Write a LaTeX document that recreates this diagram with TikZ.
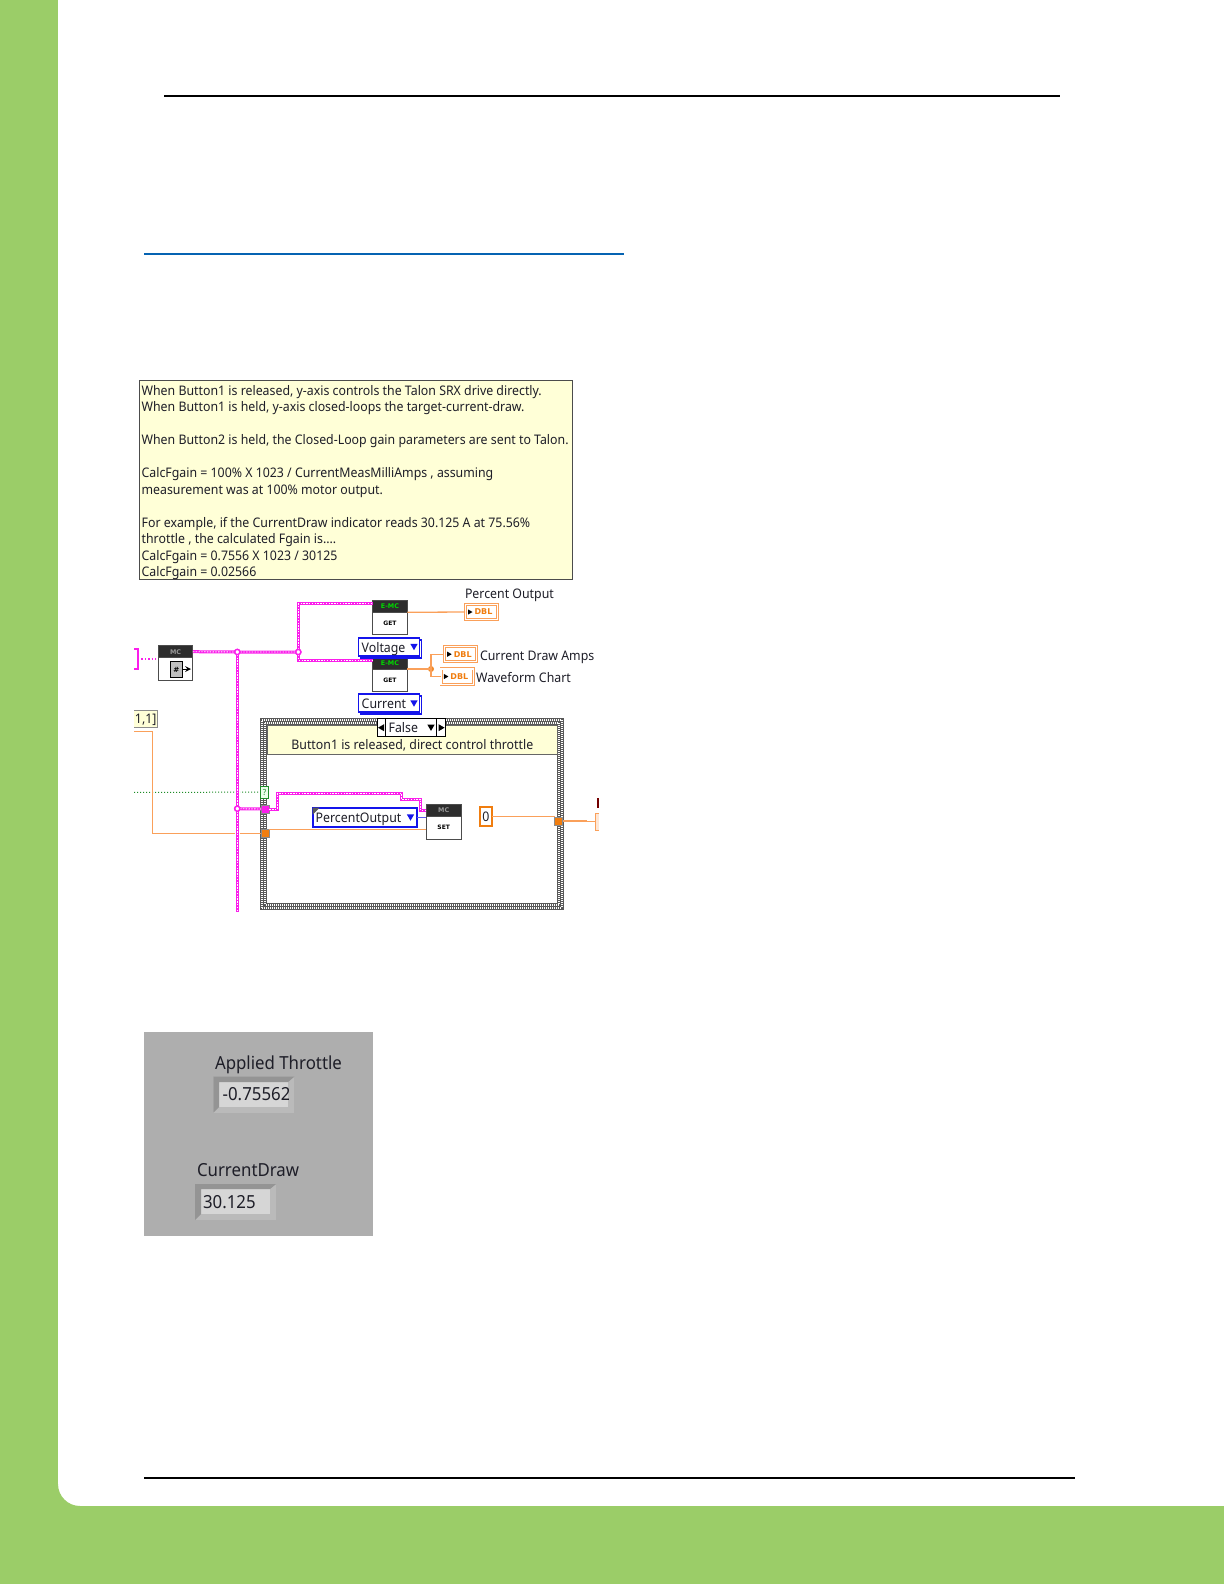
\documentclass[tikz,border=0pt]{standalone}
\usepackage{fontspec}
\setmainfont{Noto Sans}[FakeStretch=0.935]
\newfontfamily\iconfont{DejaVu Sans Bold}
\usetikzlibrary{positioning, shapes.geometric, shadows}
\definecolor{pagegreen}{RGB}{155,205,104}
\definecolor{rulblue}{RGB}{5,99,178}
\definecolor{lvpink}{RGB}{250,30,235}
\definecolor{lvorange}{RGB}{250,160,90}
\definecolor{tunnelorange}{RGB}{240,125,15}
\definecolor{lvblue}{RGB}{20,20,235}
\definecolor{lvgreen}{RGB}{30,140,40}
\definecolor{softyellow}{RGB}{255,255,215}
\definecolor{darkhead}{RGB}{45,45,45}
\definecolor{panelgray}{RGB}{174,174,174}
\definecolor{bevellight}{RGB}{186,186,186}
\definecolor{beveldark}{RGB}{148,148,148}
\definecolor{fieldgray}{RGB}{214,214,214}
\definecolor{inkgray}{RGB}{30,30,40}

\begin{document}
\begin{tikzpicture}[x=0.5pt, y=-0.5pt,
    every node/.style={inner sep=0pt, outer sep=0pt, text=inkgray},
    lvtext/.style={font=\fontsize{6.6}{8.25}\selectfont},
    paneltext/.style={font=\fontsize{9}{10}\selectfont},
    linebox/.style={lvtext, text height=5.4pt, text depth=0.4pt},
    notebox/.style={rectangle, draw=black!70, line width=0.5pt, fill=softyellow, minimum width=216.6pt, minimum height=99.5pt},
    note/.style={lvtext, align=left},
    iconhead/.style={rectangle, draw=black!70, line width=0.5pt, fill=darkhead, minimum width=17.3pt, minimum height=6pt, font=\iconfont\fontsize{3.2}{4}\selectfont},
    iconbody/.style={rectangle, draw=black!70, line width=0.5pt, fill=white, minimum width=17.3pt, minimum height=11.3pt, font=\iconfont\fontsize{3}{4}\selectfont, text=black},
    ringbox/.style={rectangle, draw=lvblue, line width=0.6pt, fill=white, linebox, align=left, inner xsep=1.5pt, text width=27.5pt, minimum height=9pt, copy shadow={shadow xshift=1pt, shadow yshift=-1pt, draw=lvblue, fill=white}},
    dropmark/.style={regular polygon, regular polygon sides=3, shape border rotate=180, fill=lvblue, minimum size=4.2pt},
    stepmark/.style={regular polygon, regular polygon sides=3, fill=black, minimum size=4pt},
    dblbox/.style={rectangle, draw=lvorange, line width=0.45pt, double=white, double distance=0.6pt, fill=white, minimum width=16.2pt, minimum height=7.6pt, font=\iconfont\fontsize{4}{5}\selectfont, text=tunnelorange},
    dbltip/.style={regular polygon, regular polygon sides=3, shape border rotate=-90, fill=black, minimum size=3pt},
    tunnelbox/.style={rectangle, draw=black!45, line width=0.3pt, minimum width=4pt, minimum height=4.2pt},
    framebox/.style={rectangle, draw=black!65, line width=3.3pt, minimum width=148.5pt, minimum height=92.4pt},
    frameouter/.style={rectangle, draw=white, line width=1pt, dash pattern=on 0.5pt off 0.5pt, minimum width=149.9pt, minimum height=93.8pt},
    frameinner/.style={rectangle, draw=white, line width=1pt, dash pattern=on 0.5pt off 0.5pt, dash phase=0.5pt, minimum width=147.1pt, minimum height=91pt},
    pinkwire/.style={draw=lvpink, line width=1.5pt, postaction={draw=white, line width=0.45pt, dash pattern=on 0.7pt off 0.7pt}},
    pinkthin/.style={draw=lvpink, line width=0.7pt, densely dotted},
    pinkdot/.style={circle, draw=lvpink, line width=0.7pt, fill=white, minimum size=2.6pt},
    orangewire/.style={draw=lvorange, line width=0.65pt},
    bluewire/.style={draw=lvblue!70, line width=0.6pt},
    greenwire/.style={draw=lvgreen, line width=0.5pt, densely dotted}
]
\useasboundingbox (0,0) rectangle (1224,1584);
% page furniture
\fill[pagegreen] (0,0) rectangle (58,1584);
\fill[pagegreen] (0,1506) rectangle (1224,1584);
\fill[pagegreen] (58,1484) -- (58,1506) -- (80,1506) arc[start angle=90, end angle=180, radius=22] -- cycle;
\draw[black, line width=0.9pt] (164,96) -- (1060,96);
\draw[rulblue, line width=0.8pt] (144,254) -- (624,254);
\draw[black, line width=0.9pt] (144,1478) -- (1075,1478);

\node[notebox, anchor=north west] (notesbox) at (139.5,380) {};
\node[note, xshift=-0.5pt, yshift=-1.5pt] (notes) at (notesbox.center) {When Button1 is released, y-axis controls the Talon SRX drive directly.\\
When Button1 is held, y-axis closed-loops the target-current-draw.\\
\mbox{}\\
When Button2 is held, the Closed-Loop gain parameters are sent to Talon.\\
\mbox{}\\
CalcFgain = 100\% X 1023 / CurrentMeasMilliAmps , assuming\\
measurement was at 100\% motor output.\\
\mbox{}\\
For example, if the CurrentDraw indicator reads 30.125 A at 75.56\%\\
throttle , the calculated Fgain is....\\
CalcFgain = 0.7556 X 1023 / 30125\\
CalcFgain = 0.02566};

% motor controller icons
\node[iconhead, text=white!60!black] (mchead) at (175.6,651.7) {MC};
\node[iconbody, below=0pt of mchead] (mcbody) {};
\node[rectangle, draw=black, line width=0.3pt, fill=black!25, minimum width=5.8pt, minimum height=7.8pt, font=\iconfont\fontsize{3.6}{4}\selectfont, text=black] (mcdoc) at (176.5,669.5) {\#};
\coordinate (mcarrow) at (191,669);
\draw[line width=0.3pt, ->, >=stealth] (mcdoc.east |- mcarrow) -- (mcarrow);

\node[iconhead, text=green!85!black] (getvhead) at (390,606.3) {E-MC};
\node[iconbody, below=0pt of getvhead] (getv) {GET};
\node[iconhead, text=green!85!black] (getchead) at (390,663) {E-MC};
\node[iconbody, below=0pt of getchead] (getc) {GET};
\node[iconhead, text=white!60!black] (sethead) at (443.7,810.5) {MC};
\node[iconbody, below=0pt of sethead] (setbody) {SET};

\node[ringbox, anchor=west] (voltage) at (358.7,647) {Voltage};
\node[dropmark] (voltagedrop) at (414,646) {};
\node[ringbox, anchor=west] (current) at (358.7,703) {Current};
\node[dropmark] (currentdrop) at (414,702.5) {};

% indicators
\node[dblbox] (dblpercent) at (481.3,612) {\hspace{2.2pt}DBL};
\node[dbltip] (tippercent) at (469.5,612) {};
\node[dblbox] (dblamps) at (460.5,654.2) {\hspace{2.2pt}DBL};
\node[dbltip] (tipamps) at (448.7,654.2) {};
\node[dblbox] (dblwave) at (457.2,676.5) {\hspace{2.2pt}DBL};
\node[dbltip] (tipwave) at (445.4,676.5) {};
\node[lvtext, anchor=west] (percentlabel) at (465,595.5) {Percent Output};
\node[lvtext, anchor=west] (ampslabel) at (480,657.2) {Current Draw Amps};
\node[lvtext, anchor=west] (wavelabel) at (476,677.3) {Waveform Chart};

% case structure
\node[framebox] (caseframe) at (412,813.8) {};
\node[frameouter] (caseouter) at (412,813.8) {};
\node[frameinner] (caseinner) at (412,813.8) {};
\node[rectangle, draw=black!60, line width=0.4pt, fill=softyellow, lvtext, minimum width=145pt, minimum height=14.5pt, anchor=north, text depth=0pt] (caselabel) at (412.3,725) {\raisebox{-4.8pt}{Button1 is released, direct control throttle}};
\node[rectangle, draw=black, line width=0.5pt, fill=white, linebox, minimum width=34pt, minimum height=9pt] (selector) at (411.3,727.7) {\hspace{-8pt}False};
\node[rectangle, draw=black, line width=0.5pt, fill=white, minimum width=4.3pt, minimum height=9pt] (selleft) at (381.6,727.7) {};
\node[rectangle, draw=black, line width=0.5pt, fill=white, minimum width=4.3pt, minimum height=9pt] (selright) at (441,727.7) {};
\node[stepmark, shape border rotate=90] (stepleft) at (382,727.7) {};
\node[stepmark, shape border rotate=-90] (stepright) at (440.6,727.7) {};
\node[dropmark, fill=black] (seldrop) at (431,726.7) {};

\node[rectangle, draw=lvgreen, line width=0.4pt, fill=green!8, minimum width=4pt, minimum height=6pt, font=\fontsize{4.2}{5}\selectfont, text=lvgreen] (selterm) at (264.7,792.2) {?};
\node[tunnelbox, fill=lvpink] (pinktunnel) at (265.3,809) {};
\node[tunnelbox, fill=tunnelorange] (ortunnel) at (265.3,833.2) {};
\node[tunnelbox, fill=tunnelorange] (outtunnel) at (558.5,821) {};

\node[rectangle, draw=lvblue, line width=0.9pt, fill=white, linebox, align=left, inner xsep=1.5pt, text width=49pt, minimum height=9.8pt, anchor=west] (percentctl) at (312.7,817.5) {PercentOutput};
\node[dropmark] (percentdrop) at (410.5,816.5) {};
\fill[black!65] (percentctl.north west) -- ++(7,0) -- ++(-7,7) -- cycle;
\node[rectangle, draw=tunnelorange, line width=1pt, fill=white, linebox, minimum width=6.2pt, minimum height=9.6pt] (zero) at (486,816.7) {0};

\node[rectangle, fill=softyellow, linebox, anchor=east, minimum width=11.6pt, minimum height=8.6pt] (indexbox) at (157.3,718.7) {1,1]};
\draw[black!45, line width=0.5pt] (indexbox.north west) -- (indexbox.north east) -- (indexbox.south east) -- (indexbox.south west);
\node[rectangle, fill=lvorange!25, minimum width=1.7pt, minimum height=8.4pt] (lastbox) at (597.5,821.7) {};
\draw[lvorange, line width=0.5pt] (lastbox.north east) -- (lastbox.north west) -- (lastbox.south west) -- (lastbox.south east);
\node[rectangle, fill=red!45!black, minimum width=1pt, minimum height=5pt] (lastmark) at (597.7,803) {};

% wires
\coordinate (greenstart) at (134,792.3);
\coordinate (orstart) at (134,731.7);
\coordinate (stubend) at (138,659);
\coordinate (pinkend) at (237.3,911.7);
\node[pinkdot] (j1) at (237.3,652) {};
\node[pinkdot] (j2) at (298.3,652) {};
\node[pinkdot] (j3) at (237.3,808.7) {};
\node[circle, fill=tunnelorange!90, minimum size=3pt] (j4) at (431,669) {};

\draw[greenwire] (greenstart) -- (selterm.west);
\draw[orangewire] (orstart) -- (152.7,731.7) |- (ortunnel.west);
\draw[orangewire] ([yshift=1.9pt]ortunnel.east) -- ([yshift=1.9pt]ortunnel.east -| setbody.west);
\draw[orangewire] (getvhead.south east) -- (dblpercent.west);
\draw[orangewire] (getchead.south east) -- (j4.center);
\draw[orangewire] (j4.center) |- (dblamps.west);
\draw[orangewire] (j4.center) |- (dblwave.west);
\draw[orangewire] (zero.east) -- (zero.east -| outtunnel.west);
\draw[orangewire] (outtunnel.east) -- (586.7,821) -- (586.7,821.7) -- (lastbox.west);
\draw[bluewire] (percentctl.east) -- (percentctl.east -| sethead.west);

\draw[white, line width=2.6pt] (j1.center) -- (pinkend);
\draw[pinkwire] (j1.center) -- (pinkend);
\draw[pinkwire] (mchead.east) -- (j1.center) -- (j2.center);
\draw[pinkwire] (j2.center) |- ([yshift=1.2pt]getvhead.west);
\draw[pinkwire] (j2.center) |- ([yshift=1.5pt]getchead.west);
\draw[pinkwire] (j3.center) -- (pinktunnel.west);
\draw[pinkwire] (pinktunnel.east) -- (277.3,809) -- (277.3,793.7) -- (401.7,793.7) -- (401.7,799.3) -- (420.7,799.3) |- (sethead.west);
\draw[pinkthin] (stubend) -- (stubend -| mcbody.west);
\draw[lvpink, line width=1.1pt] (134,649) -- (138,649) -- (138,669) -- (134,669);
\node[pinkdot] at (j1) {};
\node[pinkdot] at (j2) {};
\node[pinkdot] at (j3) {};

% front panel
\node[rectangle, fill=panelgray, anchor=north west, minimum width=114.5pt, minimum height=102pt] (panel) at (144,1032) {};
\node[paneltext, anchor=west] (throttlelabel) at (215,1065) {Applied Throttle};
\node[rectangle, fill=bevellight, minimum width=40.5pt, minimum height=18pt] (throttlebevel) at (253.8,1094.7) {};
\node[rectangle, fill=fieldgray, minimum width=34.5pt, minimum height=12.5pt] (throttlefield) at (253.5,1094.5) {};
\fill[beveldark] (throttlebevel.south west) -- (throttlebevel.north west) -- (throttlebevel.north east) -- (throttlefield.north east) -- (throttlefield.north west) -- (throttlefield.south west) -- cycle;
\begin{scope}
\clip (throttlefield.south west) rectangle (throttlefield.north east);
\node[paneltext, anchor=west] (throttlevalue) at (222.7,1094.5) {-0.75562};
\end{scope}
\node[paneltext, anchor=west] (drawlabel) at (197,1169.7) {CurrentDraw};
\node[rectangle, fill=bevellight, minimum width=40.5pt, minimum height=18pt] (drawbevel) at (235.6,1202) {};
\node[rectangle, fill=fieldgray, minimum width=34.5pt, minimum height=12.5pt] (drawfield) at (235.5,1201.5) {};
\fill[beveldark] (drawbevel.south west) -- (drawbevel.north west) -- (drawbevel.north east) -- (drawfield.north east) -- (drawfield.north west) -- (drawfield.south west) -- cycle;
\node[paneltext, anchor=west] (drawvalue) at (203,1202.5) {30.125};
\end{tikzpicture}
\end{document}
